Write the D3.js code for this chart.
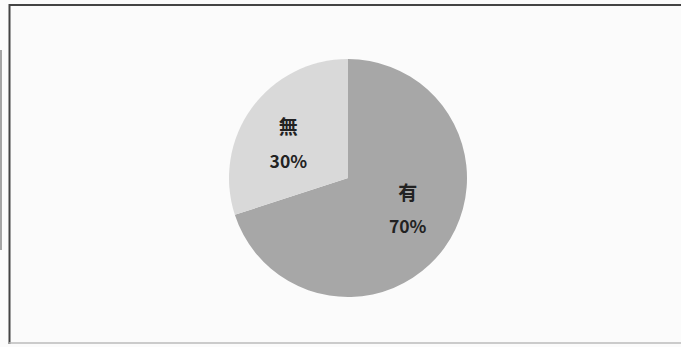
<!DOCTYPE html>
<html><head><meta charset="utf-8">
<script src="https://cdn.jsdelivr.net/npm/d3@7"></script>
<style>html,body{margin:0;padding:0;background:#fbfbfb;}svg{display:block;}</style>
</head><body>
<svg id="c" width="681" height="347"></svg>
<script>
const categories = ["有", "無"];
const values = [70, 30];
const colors = ["#a7a7a7", "#d9d9d9"];

const svg = d3.select("#c");
const W = 681, H = 347;
svg.append("rect").attr("width", W).attr("height", H).attr("fill", "#fbfbfb");
// frame
svg.append("line").attr("x1", 9).attr("x2", 681).attr("y1", 5).attr("y2", 5).attr("stroke", "#444").attr("stroke-width", 2);
svg.append("line").attr("x1", 9.5).attr("x2", 9.5).attr("y1", 4).attr("y2", 344).attr("stroke", "#444").attr("stroke-width", 2);
svg.append("line").attr("x1", 9).attr("x2", 681).attr("y1", 343).attr("y2", 343).attr("stroke", "#bbb").attr("stroke-width", 1.5);
svg.append("line").attr("x1", 1).attr("x2", 1).attr("y1", 50).attr("y2", 250).attr("stroke", "#888").attr("stroke-width", 1.5);

const cx = 348, cy = 178, r = 119;
const pie = d3.pie().sort(null).value(d => d.v);
const data = pie(categories.map((c, i) => ({ c, v: values[i], col: colors[i] })));
const arc = d3.arc().innerRadius(0).outerRadius(r);
const g = svg.append("g").attr("transform", `translate(${cx},${cy})`);
g.selectAll("path").data(data).join("path")
  .attr("d", arc).attr("fill", d => d.data.col);

// label baseline offsets relative to the arc centroid (layout only)
const labelDy = [[-21, 12], [-1, 33]];
const labelArc = d3.arc().innerRadius(r * 0.62).outerRadius(r * 0.62);
data.forEach((d, i) => {
  const [x, y] = labelArc.centroid(d);
  const t = g.append("text").attr("text-anchor", "middle")
    .attr("font-family", "'Noto Sans CJK JP', 'Noto Sans', sans-serif")
    .attr("font-weight", "bold").attr("font-size", 17.5).attr("fill", "#222");
  t.append("tspan").attr("x", x).attr("y", y + labelDy[i][0]).attr("font-size", 19).text(d.data.c);
  t.append("tspan").attr("x", x).attr("y", y + labelDy[i][1]).text(d.data.v + "%");
});
</script>
</body></html>
